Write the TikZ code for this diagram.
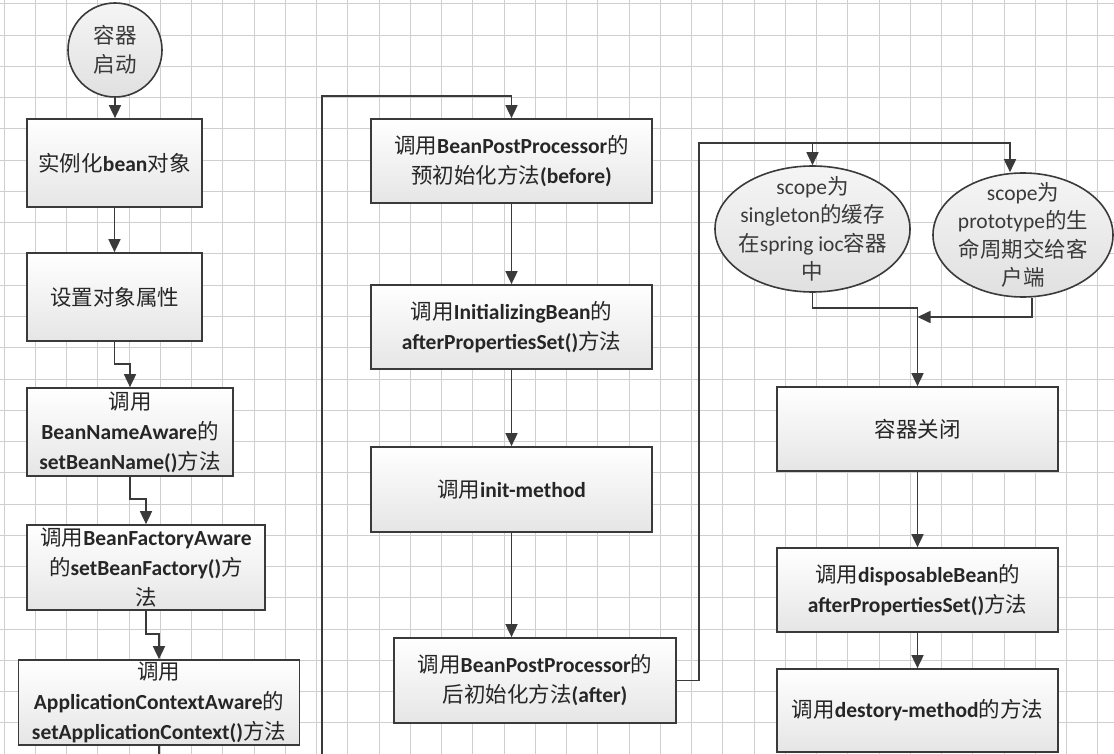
\documentclass[tikz,border=0pt]{standalone}
\usepackage{fontspec}
\setmainfont{Carlito}
\newfontfamily\cjk{Noto Sans CJK SC}
\usetikzlibrary{arrows.meta,shapes.geometric}
\newcommand\zh[1]{{\cjk\mdseries #1}}
\definecolor{ln}{HTML}{3A3A3A}
\definecolor{gridc}{HTML}{CFCFCF}
\definecolor{txt}{HTML}{262626}
\definecolor{etxt}{HTML}{3A3A3A}
\begin{document}
\begin{tikzpicture}[x=1pt,y=-1pt,
  box/.style={draw=ln, line width=1.7pt, top color=white, bottom color=black!10,
    inner sep=0pt, align=center, text=txt,
    font=\fontsize{21.5}{30}\selectfont\bfseries},
  oval/.style={ellipse, draw=ln, line width=1.6pt, top color=black!4, bottom color=black!12,
    inner sep=0pt},
  ovaltext/.style={align=center, text=etxt, inner sep=0pt,
    font=\fontsize{21.5}{28.5}\selectfont},
  arr/.style={draw=ln, line width=1.7pt, -{Triangle[length=13pt,width=12pt]}},
  conn/.style={draw=ln, line width=1.7pt}
]
\useasboundingbox (0,0) rectangle (1114,754);
\clip (0,0) rectangle (1114,754);
\fill[white] (0,0) rectangle (1114,754);
% grid
\foreach \i in {0,...,35} \draw[gridc, line width=1pt] ({4.2+31.25*\i},0) -- ++(0,754);
\foreach \j in {0,...,24} \draw[gridc, line width=1pt] (0,{4+31.25*\j}) -- ++(1114,0);

% start circle
\node[circle, draw=ln, line width=1.6pt, top color=black!4, bottom color=black!12,
  minimum size=94pt, inner sep=0pt, align=center, text=etxt,
  font=\fontsize{21.5}{29}\selectfont] (circ) at (115,50) {\zh{容器}\\\zh{启动}};

% left column
\node[box, minimum width=175pt, minimum height=88pt] (b1) at (114.5,163) {\zh{实例化}bean\zh{对象}};
\node[box, minimum width=175pt, minimum height=88pt] (b2) at (114.5,297) {\zh{设置对象属性}};
\node[box, minimum width=206pt, minimum height=88pt] (b3) at (130,432) {\zh{调用}\\BeanNameAware\zh{的}\\setBeanName()\zh{方法}};
\node[box, minimum width=238pt, minimum height=85pt] (b4) at (146,567.5) {\zh{调用}BeanFactoryAware\\\zh{的}setBeanFactory()\zh{方}\\\zh{法}};
\node[box, minimum width=281pt, minimum height=85pt] (b5) at (159,702.5) {\zh{调用}\\ApplicationContextAware\zh{的}\\setApplicationContext()\zh{方法}};

% middle column
\node[box, minimum width=281pt, minimum height=84pt] (b6) at (511.5,161) {\zh{调用}BeanPostProcessor\zh{的}\\\zh{预初始化方法}(before)};
\node[box, minimum width=281pt, minimum height=84pt] (b7) at (511.5,327) {\zh{调用}InitializingBean\zh{的}\\afterPropertiesSet()\zh{方法}};
\node[box, minimum width=281pt, minimum height=85pt] (b8) at (511.5,489.5) {\zh{调用}init-method};
\node[box, minimum width=282pt, minimum height=85pt] (b9) at (535,680.5) {\zh{调用}BeanPostProcessor\zh{的}\\\zh{后初始化方法}(after)};

% right column
\node[oval, minimum width=195pt, minimum height=126pt] (e1) at (812.5,229) {};
\node[ovaltext] (e1t) at (e1.center) {scope\zh{为}\\singleton\zh{的缓存}\\\zh{在}spring ioc\zh{容器}\\\zh{中}};
\node[oval, minimum width=180pt, minimum height=124pt] (e2) at (1023,235) {};
\node[ovaltext] (e2t) at (e2.center) {scope\zh{为}\\prototype\zh{的生}\\\zh{命周期交给客}\\\zh{户端}};

\node[box, minimum width=281pt, minimum height=84pt] (b10) at (917.5,429) {\zh{容器关闭}};
\node[box, minimum width=281pt, minimum height=84pt] (b11) at (917.5,590) {\zh{调用}disposableBean\zh{的}\\afterPropertiesSet()\zh{方法}};
\node[box, minimum width=281pt, minimum height=83pt] (b12) at (917.5,710.5) {\zh{调用}destory-method\zh{的方法}};

% helper coordinates
\coordinate (bot) at (0,775);
\coordinate (lp) at (322,96);
\coordinate (tapL) at (699,143);
\coordinate (tapR) at (1010,0);
\coordinate (ex) at (1032,0);
\coordinate (my) at (0,317);

% connectors
\draw[arr] (circ.south) -- (circ.south |- b1.north);
\draw[arr] (b1.south) -- (b1.south |- b2.north);
\draw[arr] (b2.south) -- ++(0,22) -| (b3.north);
\draw[arr] (b3.south) -- ++(0,22) -| (b4.north);
\draw[arr] (b4.south) -- ++(0,23) -| (b5.north);
\draw[arr] (b5.south) -- (b5.south |- bot) -- (lp |- bot) -- (lp) -| (b6.north);
\draw[arr] (b6.south) -- (b7.north);
\draw[arr] (b7.south) -- (b8.north);
\draw[arr] (b8.south) -- (b8.south |- b9.north);
\draw[arr] (b9.east) -| (tapL) -| (e1.north);
\draw[arr] (e1.north |- tapL) -| (tapR |- e2.north);
\draw[arr] (e1.south) -- ++(0,15) -| (b10.north);
\draw[arr] (ex |- e2.south) -- (ex |- my) -- (b10.north |- my);
\draw[arr] (b10.south) -- (b11.north);
\draw[arr] (b11.south) -- (b12.north);
\end{tikzpicture}
\end{document}
